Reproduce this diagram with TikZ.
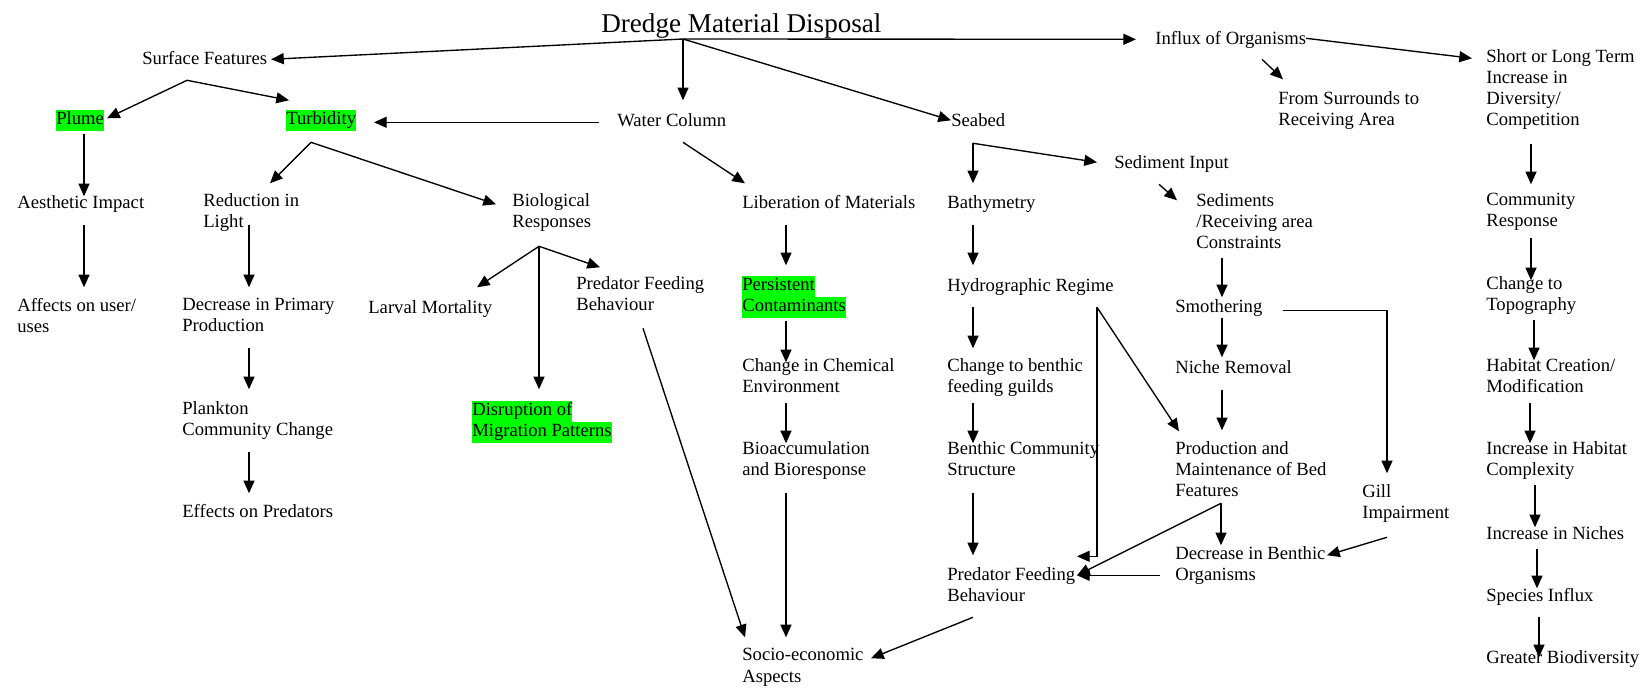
\documentclass[tikz,border=0pt]{standalone}
\usepackage{fontspec}
\setmainfont{Liberation Serif}
\usetikzlibrary{arrows.meta}
\definecolor{hlgreen}{RGB}{0,255,0}
\newcommand{\greenmark}[1]{{\fboxsep=0pt\colorbox{hlgreen}{\strut#1}}}

\begin{document}
\begin{tikzpicture}[
    x=0.59pt, y=-0.59pt,
    font=\fontsize{11}{12.4}\selectfont,
    item/.style={anchor=north west, yshift=8.68pt, align=left, inner sep=0pt, execute at begin node=\strut},
    arrow/.style={thick,->,>={Triangle[length=7.5pt,width=6.5pt]}}
]
\useasboundingbox (0,0) rectangle (1646,690);

% Title
\node (title) [anchor=base west, inner sep=0pt, font=\fontsize{16}{19}\selectfont] at (601,32) {Dredge Material Disposal};
\coordinate (tsplit) at ([shift={(82,7)}]title.base west);

% Surface features
\node (surf) [item] at (142,64) {Surface Features};
\node (plume) [item] at (56,124) {\greenmark{Plume}};
\node (turb) [item] at (286,124) {\greenmark{Turbidity}};
\node (aesth) [item] at (17,208) {Aesthetic Impact};
\node (affects) [item] at (17,313) {Affects on user/\\uses};
\node (redlight) [item] at (203,208) {Reduction in\\Light};
\node (primprod) [item] at (182,313) {Decrease in Primary\\Production};
\node (plankton) [item] at (182,416) {Plankton\\Community Change};
\node (effects) [item] at (182,517) {Effects on Predators};
\node (bio) [item] at (512,208) {Biological\\Responses};
\node (larval) [item] at (368,313) {Larval Mortality};
\node (predl) [item] at (576,291) {Predator Feeding\\Behaviour};
\node (disrupt) [item] at (472,415) {\greenmark{Disruption of}\\\greenmark{Migration Patterns}};

% Water column
\node (water) [item] at (617,126) {Water Column};
\node (libm) [item] at (742,208) {Liberation of Materials};
\node (pers) [item] at (742,290) {\greenmark{Persistent}\\\greenmark{Contaminants}};
\node (chem) [item] at (742,373) {Change in Chemical\\Environment};
\node (bioacc) [item] at (742,456) {Bioaccumulation\\and Bioresponse};
\node (socio) [item] at (742,663) {Socio-economic\\Aspects};

% Seabed
\node (seabed) [item] at (951,126) {Seabed};
\node (bathy) [item] at (947,208) {Bathymetry};
\node (hydro) [item] at (947,291) {Hydrographic Regime};
\node (benfeed) [item] at (947,373) {Change to benthic\\feeding guilds};
\node (bencom) [item] at (947,456) {Benthic Community\\Structure};
\node (predr) [item] at (947,582) {Predator Feeding\\Behaviour};
\node (sedin) [item] at (1114,168) {Sediment Input};
\node (sedrec) [item] at (1196,208) {Sediments\\/Receiving area\\Constraints};
\node (smoth) [item] at (1175,312) {Smothering};
\node (niche) [item] at (1175,373) {Niche Removal};
\node (prodbed) [item] at (1175,456) {Production and\\Maintenance of Bed\\Features};
\node (decben) [item] at (1175,561) {Decrease in Benthic\\Organisms};
\node (gill) [item] at (1362,499) {Gill\\Impairment};

% Influx of organisms
\node (influx) [item] at (1155,44) {Influx of Organisms};
\node (surr) [item] at (1278,106) {From Surrounds to\\Receiving Area};
\node (short) [item] at (1486,64) {Short or Long Term\\Increase in\\Diversity/\\Competition};
\node (comm) [item] at (1486,208) {Community\\Response};
\node (topo) [item] at (1486,291) {Change to\\Topography};
\node (habcr) [item] at (1486,373) {Habitat Creation/\\Modification};
\node (habcx) [item] at (1486,456) {Increase in Habitat\\Complexity};
\node (niches) [item] at (1486,539) {Increase in Niches};
\node (species) [item] at (1486,601) {Species Influx};
\node (greater) [item] at (1486,663) {Greater Biodiversity};

% Connections from the title
\draw [arrow] (tsplit) -- ([shift={(129,10)}]surf.north west);
\draw [arrow] (tsplit) -- ([shift={(-19,10)}]influx.north west);
\draw [arrow] (tsplit) -- ([shift={(66,-11)}]water.north west);
\draw [arrow] (tsplit) -- ([shift={(0,9)}]seabed.north west);

% Connections, surface features
\coordinate (sfsplit) at ([shift={(45,31)}]surf.north west);
\draw [arrow] (sfsplit) -- ([shift={(51,9)}]plume.north west);
\draw [arrow] (sfsplit) -- ([shift={(3,-9)}]turb.north west);
\draw [arrow] ([shift={(28,25)}]plume.north west) -- ([shift={(67,3)}]aesth.north west);
\draw [arrow] ([shift={(67,32)}]aesth.north west) -- ([shift={(67,-11)}]affects.north west);
\coordinate (tbsplit) at ([shift={(25,33)}]turb.north west);
\draw [arrow] (tbsplit) -- ([shift={(67,-10)}]redlight.north west);
\draw [arrow] (tbsplit) -- ([shift={(-16,11)}]bio.north west);
\draw [arrow] ([shift={(46,32)}]redlight.north west) -- ([shift={(67,-11)}]primprod.north west);
\draw [arrow] ([shift={(67,50)}]primprod.north west) -- ([shift={(67,-12)}]plankton.north west);
\draw [arrow] ([shift={(67,51)}]plankton.north west) -- ([shift={(67,-9)}]effects.north west);
\coordinate (brsplit) at ([shift={(27,53)}]bio.north west);
\draw [arrow] (brsplit) -- ([shift={(109,-11)}]larval.north west);
\draw [arrow] (brsplit) -- ([shift={(24,-9)}]predl.north west);
\draw [arrow] (brsplit) -- ([shift={(67,-11)}]disrupt.north west);
\draw [arrow] ([shift={(67,52)}]predl.north west) -- ([shift={(3,-11)}]socio.north west);

% Connections, water column
\draw [arrow] ([shift={(-18,11)}]water.north west) -- ([shift={(88,13)}]turb.north west);
\draw [arrow] ([shift={(66,31)}]water.north west) -- ([shift={(3,-10)}]libm.north west);
\draw [arrow] ([shift={(44,32)}]libm.north west) -- ([shift={(44,-10)}]pers.north west);
\draw [arrow] ([shift={(44,46)}]pers.north west) -- ([shift={(44,4)}]chem.north west);
\draw [arrow] ([shift={(44,45)}]chem.north west) -- ([shift={(44,2)}]bioacc.north west);
\draw [arrow] ([shift={(44,52)}]bioacc.north west) -- ([shift={(44,-11)}]socio.north west);

% Connections, seabed
\coordinate (sbsplit) at ([shift={(22,32)}]seabed.north west);
\draw [arrow] (sbsplit) -- ([shift={(26,-10)}]bathy.north west);
\draw [arrow] (sbsplit) -- ([shift={(-17,9)}]sedin.north west);
\draw [arrow] ([shift={(26,32)}]bathy.north west) -- ([shift={(26,-11)}]hydro.north west);
\draw [arrow] ([shift={(26,31)}]hydro.north west) -- ([shift={(26,-10)}]benfeed.north west);
\draw [arrow] ([shift={(26,45)}]benfeed.north west) -- ([shift={(26,2)}]bencom.north west);
\draw [arrow] ([shift={(26,52)}]bencom.north west) -- ([shift={(26,-12)}]predr.north west);
\draw [arrow] ([shift={(26,50)}]predr.north west) -- ([shift={(129,10)}]socio.north west);
\coordinate (hrsplit) at ([shift={(150,31)}]hydro.north west);
\draw [arrow] (hrsplit) |- ([shift={(130,-11)}]predr.north west);
\draw [arrow] (hrsplit) -- ([shift={(4,-10)}]prodbed.north west);
\draw [arrow] ([shift={(45,31)}]sedin.north west) -- ([shift={(-19,7)}]sedrec.north west);
\draw [arrow] ([shift={(26,65)}]sedrec.north west) -- ([shift={(47,0)}]smoth.north west);
\draw [arrow] ([shift={(47,21)}]smoth.north west) -- ([shift={(47,-1)}]niche.north west);
\draw [arrow] ([shift={(47,32)}]niche.north west) -- ([shift={(47,-11)}]prodbed.north west);
\draw [arrow] ([shift={(108,13)}]smoth.north west) -| ([shift={(25,-11)}]gill.north west);
\coordinate (pbsplit) at ([shift={(46,62)}]prodbed.north west);
\draw [arrow] (pbsplit) -- ([shift={(46,-1)}]decben.north west);
\draw [arrow] (pbsplit) -- ([shift={(130,8)}]predr.north west);
\draw [arrow] ([shift={(-15,29)}]decben.north west) -- ([shift={(130,8)}]predr.north west);
\draw [arrow] ([shift={(25,53)}]gill.north west) -- ([shift={(152,9)}]decben.north west);

% Connections, influx of organisms
\draw [arrow] ([shift={(151,9)}]influx.north west) -- ([shift={(-14,9)}]short.north west);
\draw [arrow] ([shift={(107,30)}]influx.north west) -- ([shift={(5,-12)}]surr.north west);
\draw [arrow] ([shift={(45,95)}]short.north west) -- ([shift={(45,-9)}]comm.north west);
\draw [arrow] ([shift={(45,45)}]comm.north west) -- ([shift={(45,4)}]topo.north west);
\draw [arrow] ([shift={(48,44)}]topo.north west) -- ([shift={(48,2)}]habcr.north west);
\draw [arrow] ([shift={(44,45)}]habcr.north west) -- ([shift={(44,2)}]habcx.north west);
\draw [arrow] ([shift={(49,44)}]habcx.north west) -- ([shift={(49,3)}]niches.north west);
\draw [arrow] ([shift={(51,25)}]niches.north west) -- ([shift={(51,2)}]species.north west);
\draw [arrow] ([shift={(53,31)}]species.north west) -- ([shift={(53,9)}]greater.north west);

\end{tikzpicture}
\end{document}
